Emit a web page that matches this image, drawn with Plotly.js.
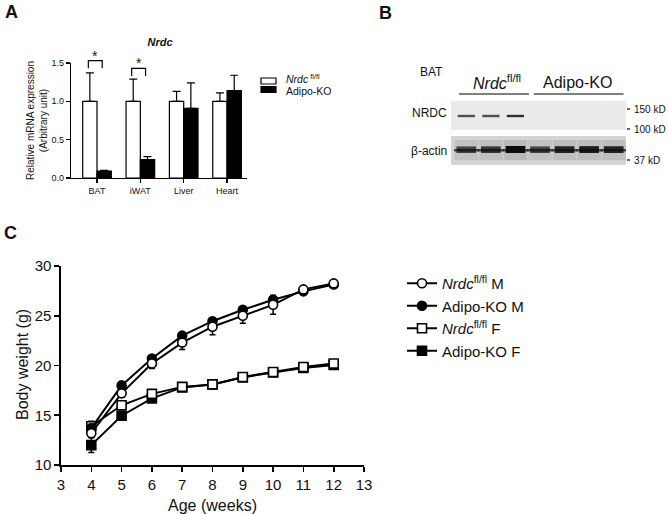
<!DOCTYPE html>
<html><head><meta charset="utf-8">
<script src="https://cdn.plot.ly/plotly-3.0.1.min.js"></script>
<style>html,body{margin:0;padding:0;background:#fff}</style>
</head><body><div id="chart" style="width:668px;height:514px"></div>
<script>
// ---- Panel A data ----
const tissues = ['BAT','iWAT','Liver','Heart'];
const flflExpr = [1.0,1.0,1.0,1.0];
const flflErr = [0.37,0.29,0.13,0.11];
const koExpr = [0.09,0.24,0.91,1.14];
const koErr = [0.01,0.04,0.33,0.20];
const sigTissues = ['BAT','iWAT'];
const sigHeights = [1.53,1.43];
const seriesA = ['<i>Nrdc</i><sup> fl/fl</sup>', 'Adipo-KO'];

// ---- Panel C data ----
const weeks = [4,5,6,7,8,9,10,11,12];
const flflM = [13.2,17.2,20.2,22.3,23.9,25.0,26.1,27.65,28.25];
const flflMErr = [0.4,0.4,0.5,0.7,0.8,0.75,0.95,0.3,0.3];
const koM = [13.7,18.0,20.7,23.0,24.45,25.6,26.6,27.45,28.15];
const koMErr = [0.4,0.3,0.3,0.3,0.3,0.3,0.3,0.2,0.2];
const flflF = [13.9,16.0,17.15,17.85,18.1,18.85,19.35,19.85,20.2];
const flflFErr = [0.5,0.4,0.3,0.3,0.3,0.3,0.3,0.3,0.3];
const koF = [12.0,14.95,16.7,17.8,18.1,18.8,19.3,19.75,20.05];
const koFErr = [0.75,0.45,0.3,0.3,0.3,0.3,0.3,0.3,0.3];

// ---- Panel B (blot) data ----
const laneGroups = ['Nrdc fl/fl','Nrdc fl/fl','Nrdc fl/fl','Adipo-KO','Adipo-KO','Adipo-KO','Adipo-KO'];
const nrdcBand = [0.75,0.75,0.9,0,0,0,0];
const actinBand = [0.7,0.75,1.0,0.7,0.85,0.9,0.85];
const mwLabels = ['150 kD','100 kD','37 kD'];

const W = 668, H = 514;
const px = v => v / W, py = v => 1 - v / H;
const FONT = 'Liberation Sans, Arial, Helvetica, sans-serif';
const idx = tissues.map((_, i) => i);
const yDomA = [py(178), py(63)], yRangeA = [0, 1.5];
const yA = v => yDomA[0] + (v - yRangeA[0]) / (yRangeA[1] - yRangeA[0]) * (yDomA[1] - yDomA[0]);

const traces = [];
// Panel A bars
traces.push({
  type:'bar', x: idx, y: flflExpr, name:seriesA[0], showlegend:false,
  xaxis:'x', yaxis:'y',
  marker:{color:'white', line:{color:'black', width:1.2}},
  error_y:{type:'data', symmetric:false, array:flflErr, arrayminus:flflErr.map(()=>0), color:'black', thickness:1.2, width:4}
});
traces.push({
  type:'bar', x: idx, y: koExpr, name:seriesA[1], showlegend:false,
  xaxis:'x', yaxis:'y',
  marker:{color:'black', line:{color:'black', width:1.2}},
  error_y:{type:'data', symmetric:false, array:koErr, arrayminus:koErr.map(()=>0), color:'black', thickness:1.2, width:4}
});

// Panel C
function series(name, y, err, sym, fill, rank){
  return {type:'scatter', mode:'lines+markers', x:weeks, y:y, name:name, xaxis:'x2', yaxis:'y2',
    legend:'legend', legendrank:rank, cliponaxis:false,
    line:{color:'black', width:2},
    marker:{symbol:sym, size:9, color:fill, line:{color:'black', width:1.6}},
    error_y:{type:'data', array:err, color:'black', thickness:1.5, width:3}};
}
traces.push(series('Adipo-KO F', koF, koFErr, 'square', 'black', 4));
traces.push(series('<i>Nrdc</i><sup>fl/fl</sup> F', flflF, flflFErr, 'square', 'white', 3));
traces.push(series('Adipo-KO M', koM, koMErr, 'circle', 'black', 2));
traces.push(series('<i>Nrdc</i><sup>fl/fl</sup> M', flflM, flflMErr, 'circle', 'white', 1));

const shapes = [];
const ann = [];
const A = (text, x, y, size, opts={}) => ann.push(Object.assign({text, x:px(x), y:py(y), xref:'paper', yref:'paper',
  showarrow:false, font:{size, family:FONT, color:'#111'}, xanchor:'center', yanchor:'middle'}, opts));

// significance brackets + stars (panel A)
sigTissues.forEach((t, k) => {
  const i = tissues.indexOf(t), h = sigHeights[k];
  shapes.push({type:'path', xref:'x', yref:'paper',
    path:`M ${i-0.2},${yA(h-0.1)} L ${i-0.2},${yA(h)} L ${i+0.12},${yA(h)} L ${i+0.12},${yA(h-0.1)}`,
    line:{color:'black', width:1.2}});
  ann.push({text:'*', x:i-0.04, y:yA(h), xref:'x', yref:'paper', showarrow:false, yanchor:'bottom', yshift:-5,
    font:{size:14, family:FONT, color:'#111'}});
});
// manual legend for panel A
shapes.push({type:'rect', xref:'paper', yref:'paper', x0:px(261), x1:px(276), y0:py(84), y1:py(78),
  fillcolor:'white', line:{color:'black', width:1.2}});
shapes.push({type:'rect', xref:'paper', yref:'paper', x0:px(261), x1:px(276), y0:py(92.5), y1:py(86.5),
  fillcolor:'black', line:{color:'black', width:1.2}});
A(seriesA[0], 284, 78, 10.5, {xanchor:'left'});
A(seriesA[1], 284, 90.5, 10.5, {xanchor:'left'});

// Blot shapes
shapes.push({type:'rect', xref:'paper', yref:'paper', x0:px(451), x1:px(626), y0:py(130), y1:py(101),
  fillcolor:'#eaeaea', line:{width:0}, layer:'below'});
shapes.push({type:'rect', xref:'paper', yref:'paper', x0:px(451), x1:px(626), y0:py(165), y1:py(136),
  fillcolor:'#d4d4d4', line:{width:0}, layer:'below'});
nrdcBand.forEach((v, i) => {
  if (v > 0) shapes.push({type:'rect', xref:'x3', yref:'paper', x0:i+0.15, x1:i+0.85,
    y0:py(117.2), y1:py(114.8), fillcolor:`rgba(25,25,25,${v})`, line:{width:0}});
});
actinBand.forEach((v, i) => {
  shapes.push({type:'rect', xref:'x3', yref:'paper', x0:i+0.02, x1:i+0.98,
    y0:py(160), y1:py(140), fillcolor:`rgba(70,70,70,${v*0.18})`, line:{width:0}});
  shapes.push({type:'rect', xref:'x3', yref:'paper', x0:i-0.02, x1:i+1.02,
    y0:py(151.5), y1:py(149), fillcolor:`rgba(25,25,25,0.75)`, line:{width:0}});
  shapes.push({type:'rect', xref:'x3', yref:'paper', x0:i+0.1, x1:i+0.9,
    y0:py(153), y1:py(147.5 - v*1.5), fillcolor:`rgba(10,10,10,${v})`, line:{width:0}});
});
// group underlines
shapes.push({type:'line', xref:'x3', yref:'paper', x0:0.2, x1:3.05, y0:py(94), y1:py(94), line:{color:'#555', width:1.5}});
shapes.push({type:'line', xref:'x3', yref:'paper', x0:3.25, x1:6.9, y0:py(94), y1:py(94), line:{color:'#555', width:1.5}});
// marker dashes
[109,129,160].forEach(y => shapes.push({type:'line', xref:'paper', yref:'paper', x0:px(627), x1:px(630), y0:py(y), y1:py(y), line:{color:'#333', width:1.5}}));

A('<b>A</b>', 11, 12, 18);
A('<b>B</b>', 385, 13, 18);
A('<b>C</b>', 10, 233, 18);
A('BAT', 431, 72, 12);
A('<i>Nrdc</i><sup>fl/fl</sup>', 497, 82, 16);
A('Adipo-KO', 577, 82, 16);
A('NRDC', 449, 113, 12, {xanchor:'right'});
A('β-actin', 449, 151, 12, {xanchor:'right'});
[109,129,160].forEach((y, k) => A(mwLabels[k], 632, y, 10, {xanchor:'left'}));
A('Body weight (g)', 22, 365, 16, {textangle:-90});

const axBase = {showline:true, linecolor:'black', ticks:'outside', tickcolor:'black', showgrid:false, zeroline:false, fixedrange:true};
const layout = {
  width:W, height:H, margin:{l:0,r:0,t:0,b:0}, paper_bgcolor:'white', plot_bgcolor:'rgba(0,0,0,0)',
  font:{family:FONT, color:'#111'},
  title:{text:'<b><i>Nrdc</i></b>', x:px(160), y:py(42), xref:'paper', yref:'paper', xanchor:'center', yanchor:'middle', font:{size:11, family:FONT}},
  barmode:'group', bargap:0.34, bargroupgap:0,
  xaxis:Object.assign({}, axBase, {domain:[px(71),px(247)], range:[-0.6,3.46], tickvals:idx, ticktext:tissues,
    linewidth:1.2, tickwidth:1.2, ticklen:4, tickfont:{size:9}, anchor:'y'}),
  yaxis:Object.assign({}, axBase, {domain:yDomA, range:yRangeA, tickvals:[0,0.5,1,1.5], tickformat:'.1f',
    linewidth:1.2, tickwidth:1.2, ticklen:4, tickfont:{size:9}, anchor:'x',
    title:{text:'Relative mRNA expression<br>(Arbitrary unit)', font:{size:10}}}),
  xaxis2:Object.assign({}, axBase, {domain:[px(61),px(364)], range:[3,13], dtick:1, linewidth:1.6, tickwidth:1.6, ticklen:5,
    tickfont:{size:15}, anchor:'y2', title:{text:'Age (weeks)', font:{size:16}}}),
  yaxis2:Object.assign({}, axBase, {domain:[py(465),py(266)], range:[10,30], dtick:5, linewidth:1.6, tickwidth:1.6, ticklen:5,
    tickfont:{size:15}, anchor:'x2'}),
  xaxis3:{domain:[px(454),px(626)], range:[0,7], visible:false, fixedrange:true, anchor:'y3'},
  yaxis3:{domain:[py(163),py(102)], range:[0,1], visible:false, fixedrange:true, anchor:'x3'},
  legend:{x:px(402), y:py(267), xanchor:'left', yanchor:'top', font:{size:15}, bgcolor:'rgba(0,0,0,0)', traceorder:'normal'},
  shapes, annotations: ann, showlegend:true
};
Plotly.newPlot('chart', traces, layout, {staticPlot:true, displayModeBar:false});
</script></body></html>
